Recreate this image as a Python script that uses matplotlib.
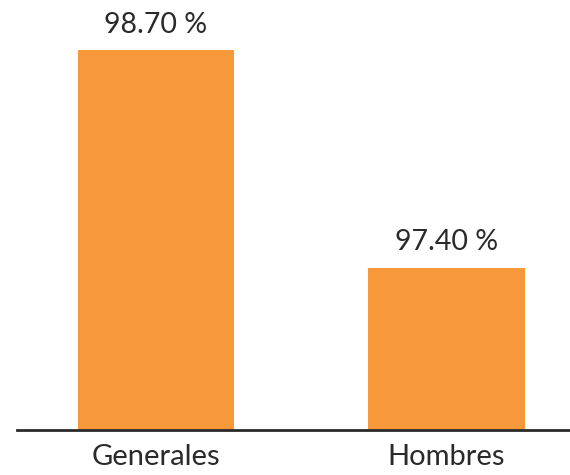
import matplotlib
matplotlib.use("Agg")
import matplotlib.pyplot as plt

categories = ["Generales", "Hombres"]
values = [98.70, 97.40]
labels = ["98.70 %", "97.40 %"]

plt.rcParams['font.family'] = ['Lato', 'DejaVu Sans']

fig = plt.figure(figsize=(5.7, 4.75), dpi=100)
ax = fig.add_axes([17/570, 45/475, 553/570, 430/475])
x = range(len(categories))
bars = ax.bar(x, values, width=0.54, color="#F7993A", zorder=2)
ax.set_ylim(96.43, 99.0)
ax.set_xlim(-0.4785, 1.425)
for xi, v, lab in zip(x, values, labels):
    ax.annotate(lab, (xi, v), xytext=(0, 9), textcoords="offset points",
                ha="center", va="bottom", fontsize=20.5, color="#2a2a2a")
ax.set_xticks(list(x))
ax.set_xticklabels(categories, fontsize=21, color="#2a2a2a")
ax.tick_params(axis="x", length=0, pad=10)
ax.set_yticks([])
for s in ["top", "right", "left"]:
    ax.spines[s].set_visible(False)
ax.spines["bottom"].set_color("#2a2a2a")
ax.spines["bottom"].set_linewidth(2)
fig.savefig("out.png", dpi=100)
